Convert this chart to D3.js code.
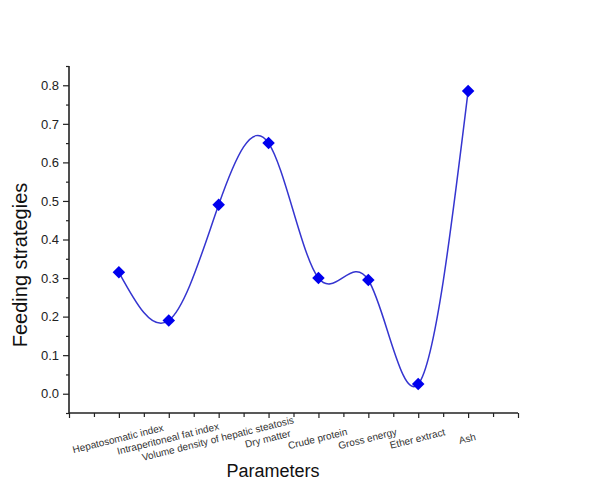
<!DOCTYPE html>
<html>
<head>
<meta charset="utf-8">
<script src="https://cdn.jsdelivr.net/npm/d3@7"></script>
<style>
  body { margin: 0; background: #fff; }
  svg { font-family: "Liberation Sans", Arial, sans-serif; }
</style>
</head>
<body>
<svg id="chart" width="596" height="486"></svg>
<script>
const parameters = ['Hepatosomatic index', 'Intraperitoneal fat index', 'Volume density of hepatic steatosis',
  'Dry matter', 'Crude protein', 'Gross energy', 'Ether extract', 'Ash'];
const feedingValues = [0.315, 0.19, 0.49, 0.65, 0.30, 0.295, 0.025, 0.785];
const yTicks = [0.0, 0.1, 0.2, 0.3, 0.4, 0.5, 0.6, 0.7, 0.8];

const svg = d3.select('#chart');

// plot frame in pixels
const plotLeft = 69, plotRight = 518, plotTop = 66, plotBottom = 413;

const x = d3.scaleLinear().domain([0, 9]).range([plotLeft, plotRight]);
const y = d3.scaleLinear().domain([-0.05, 0.85]).range([plotBottom, plotTop]);

const data = feedingValues.map((v, i) => ({ key: parameters[i], idx: i + 1, value: v }));

// y axis: minor ticks, then major ticks with labels
const yMinor = d3.range(-0.05, 0.86, 0.05).map(d => +d.toFixed(2)).filter(d => !yTicks.includes(d));
svg.append('g')
    .attr('transform', `translate(${plotLeft},0)`)
    .call(d3.axisLeft(y).tickValues(yMinor).tickSize(3).tickFormat(''))
    .call(g => g.select('.domain').remove())
    .selectAll('line').attr('stroke', '#222').attr('stroke-width', 1.2);

svg.append('g')
    .attr('transform', `translate(${plotLeft},0)`)
    .call(d3.axisLeft(y).tickValues(yTicks).tickSize(6).tickPadding(4).tickFormat(d3.format('.1f')))
    .call(g => g.select('.domain').remove())
    .call(g => g.selectAll('line').attr('stroke', '#222').attr('stroke-width', 1.2))
    .call(g => g.selectAll('text').attr('font-size', 13).attr('fill', '#222')
      .attr('font-family', '"Liberation Sans", Arial, sans-serif'));

// x axis ticks (major at integers, minor at halves)
svg.append('g')
    .attr('transform', `translate(0,${plotBottom})`)
    .call(d3.axisBottom(x).tickValues(d3.range(0.5, 9, 1)).tickSize(4).tickFormat(''))
    .call(g => g.select('.domain').remove())
    .selectAll('line').attr('stroke', '#222').attr('stroke-width', 1.2);

svg.append('g')
    .attr('transform', `translate(0,${plotBottom})`)
    .call(d3.axisBottom(x).tickValues(d3.range(0, 10, 1)).tickSize(5).tickFormat(''))
    .call(g => g.select('.domain').remove())
    .selectAll('line').attr('stroke', '#222').attr('stroke-width', 1.2);

// axis lines
svg.append('line').attr('x1', plotLeft).attr('x2', plotLeft).attr('y1', plotTop).attr('y2', plotBottom)
    .attr('stroke', '#222').attr('stroke-width', 1.6);
svg.append('line').attr('x1', plotLeft).attr('x2', plotRight).attr('y1', plotBottom).attr('y2', plotBottom)
    .attr('stroke', '#222').attr('stroke-width', 1.6);

// rotated category labels
svg.append('g').selectAll('text')
    .data(data)
    .join('text')
    .attr('transform', d => `translate(${x(d.idx)},442) rotate(-14)`)
    .attr('text-anchor', 'middle')
    .attr('font-size', 10)
    .attr('fill', '#333')
    .text(d => d.key);

// spline line
const line = d3.line()
    .x(d => x(d.idx))
    .y(d => y(d.value))
    .curve(d3.curveNatural);

svg.append('path')
    .datum(data)
    .attr('d', line)
    .attr('fill', 'none')
    .attr('stroke', '#3535d0')
    .attr('stroke-width', 1.5);

// diamond markers
svg.append('g').selectAll('path')
    .data(data)
    .join('path')
    .attr('transform', d => `translate(${x(d.idx)},${y(d.value)})`)
    .attr('d', d3.symbol(d3.symbolDiamond2, 100))
    .attr('fill', '#0000ee');

// axis titles
svg.append('text')
    .attr('transform', `translate(27,265) rotate(-90)`)
    .attr('text-anchor', 'middle')
    .attr('font-size', 20)
    .attr('fill', '#111')
    .text('Feeding strategies');

svg.append('text')
    .attr('x', 273)
    .attr('y', 477)
    .attr('text-anchor', 'middle')
    .attr('font-size', 18)
    .attr('fill', '#111')
    .text('Parameters');
</script>
</body>
</html>
